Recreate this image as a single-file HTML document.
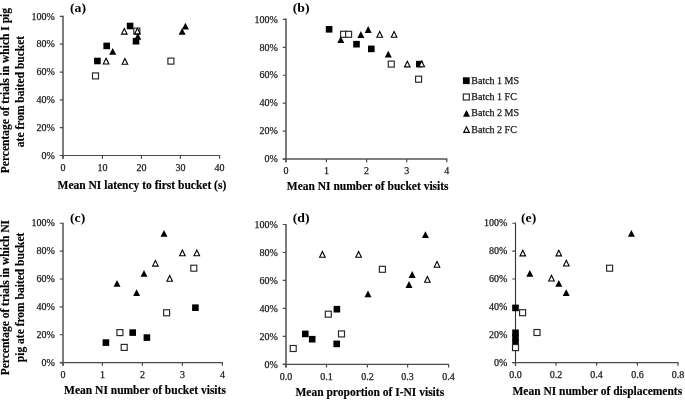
<!DOCTYPE html>
<html><head><meta charset="utf-8"><title>Figure</title>
<style>
html,body{margin:0;padding:0;background:#fff;}
svg{display:block;}
.t{font-family:"Liberation Serif","Times New Roman",serif;font-size:10px;fill:#1a1a1a;stroke:#1a1a1a;stroke-width:0.25px;}
.b{font-family:"Liberation Serif","Times New Roman",serif;font-size:11.5px;font-weight:bold;fill:#000;stroke:#000;stroke-width:0.15px;}
.l{font-family:"Liberation Serif","Times New Roman",serif;font-size:13px;font-weight:bold;fill:#000;}
</style></head><body>
<svg width="685" height="400" viewBox="0 0 685 400">
<rect width="685" height="400" fill="#fff"/>
<path d="M63.00 15.80V158.70" fill="none" stroke="#505050" stroke-width="1.5"/>
<path d="M59.80 155.50H220.10" fill="none" stroke="#4a4a4a" stroke-width="1.2"/>
<text x="54.80" y="158.70" text-anchor="end" class="t">0%</text>
<text x="54.80" y="130.88" text-anchor="end" class="t">20%</text>
<text x="54.80" y="103.06" text-anchor="end" class="t">40%</text>
<text x="54.80" y="75.24" text-anchor="end" class="t">60%</text>
<text x="54.80" y="47.42" text-anchor="end" class="t">80%</text>
<text x="54.80" y="19.60" text-anchor="end" class="t">100%</text>
<text x="63.00" y="170.80" text-anchor="middle" class="t">0</text>
<text x="102.40" y="170.80" text-anchor="middle" class="t">10</text>
<text x="141.40" y="170.80" text-anchor="middle" class="t">20</text>
<text x="180.40" y="170.80" text-anchor="middle" class="t">30</text>
<text x="219.60" y="170.80" text-anchor="middle" class="t">40</text>
<path d="M59.80 155.50H63.00M59.80 127.68H63.00M59.80 99.86H63.00M59.80 72.04H63.00M59.80 44.22H63.00M59.80 16.40H63.00M63.00 155.50V158.70M102.40 155.50V158.70M141.40 155.50V158.70M180.40 155.50V158.70M219.60 155.50V158.70" fill="none" stroke="#4a4a4a" stroke-width="1.2"/>
<text transform="translate(70.00 12.25) scale(1.06 1)" class="l">(a)</text>
<text x="141.90" y="189.00" text-anchor="middle" class="b">Mean NI latency to first bucket (s)</text>
<text transform="translate(9.40 90.60) rotate(-90)" text-anchor="middle" class="b">Percentage of trials in which I pig</text>
<text transform="translate(23.50 91.50) rotate(-90)" text-anchor="middle" class="b">ate from baited bucket</text>
<rect x="126.80" y="22.70" width="6.6" height="6.6" fill="#000"/>
<rect x="132.70" y="37.90" width="6.6" height="6.6" fill="#000"/>
<rect x="103.40" y="42.60" width="6.6" height="6.6" fill="#000"/>
<rect x="94.10" y="57.70" width="6.6" height="6.6" fill="#000"/>
<rect x="92.50" y="72.90" width="6.0" height="6.0" fill="#fff" stroke="#262626" stroke-width="1.15"/>
<rect x="133.80" y="28.10" width="6.0" height="6.0" fill="#fff" stroke="#262626" stroke-width="1.15"/>
<rect x="167.90" y="58.10" width="6.0" height="6.0" fill="#fff" stroke="#262626" stroke-width="1.15"/>
<polygon points="112.70,47.90 116.20,54.70 109.20,54.70" fill="#000"/>
<polygon points="137.80,33.00 141.30,39.80 134.30,39.80" fill="#000"/>
<polygon points="182.10,28.00 185.60,34.80 178.60,34.80" fill="#000"/>
<polygon points="185.40,22.70 188.90,29.50 181.90,29.50" fill="#000"/>
<polygon points="124.30,28.40 127.10,34.10 121.50,34.10" fill="#fff" stroke="#000" stroke-width="1.1" stroke-linejoin="miter"/>
<polygon points="137.40,28.20 140.20,33.90 134.60,33.90" fill="#fff" stroke="#000" stroke-width="1.1" stroke-linejoin="miter"/>
<polygon points="106.10,58.30 108.90,64.00 103.30,64.00" fill="#fff" stroke="#000" stroke-width="1.1" stroke-linejoin="miter"/>
<polygon points="124.90,58.60 127.70,64.30 122.10,64.30" fill="#fff" stroke="#000" stroke-width="1.1" stroke-linejoin="miter"/>
<path d="M286.00 18.60V162.20" fill="none" stroke="#505050" stroke-width="1.5"/>
<path d="M282.80 159.00H447.30" fill="none" stroke="#555" stroke-width="1.6"/>
<text x="277.80" y="162.20" text-anchor="end" class="t">0%</text>
<text x="277.80" y="134.28" text-anchor="end" class="t">20%</text>
<text x="277.80" y="106.36" text-anchor="end" class="t">40%</text>
<text x="277.80" y="78.44" text-anchor="end" class="t">60%</text>
<text x="277.80" y="50.52" text-anchor="end" class="t">80%</text>
<text x="277.80" y="22.60" text-anchor="end" class="t">100%</text>
<text x="286.00" y="174.30" text-anchor="middle" class="t">0</text>
<text x="326.40" y="174.30" text-anchor="middle" class="t">1</text>
<text x="366.60" y="174.30" text-anchor="middle" class="t">2</text>
<text x="406.70" y="174.30" text-anchor="middle" class="t">3</text>
<text x="446.80" y="174.30" text-anchor="middle" class="t">4</text>
<path d="M282.80 159.00H286.00M282.80 131.08H286.00M282.80 103.16H286.00M282.80 75.24H286.00M282.80 47.32H286.00M282.80 19.40H286.00M286.00 159.00V162.20M326.40 159.00V162.20M366.60 159.00V162.20M406.70 159.00V162.20M446.80 159.00V162.20" fill="none" stroke="#4a4a4a" stroke-width="1.2"/>
<text transform="translate(292.75 12.25) scale(1.06 1)" class="l">(b)</text>
<text x="367.70" y="189.60" text-anchor="middle" class="b">Mean NI number of bucket visits</text>
<rect x="325.80" y="26.00" width="6.6" height="6.6" fill="#000"/>
<rect x="353.20" y="40.90" width="6.6" height="6.6" fill="#000"/>
<rect x="368.00" y="45.60" width="6.6" height="6.6" fill="#000"/>
<rect x="416.00" y="60.80" width="6.6" height="6.6" fill="#000"/>
<rect x="340.60" y="31.30" width="6.0" height="6.0" fill="#fff" stroke="#262626" stroke-width="1.15"/>
<rect x="345.60" y="31.30" width="6.0" height="6.0" fill="#fff" stroke="#262626" stroke-width="1.15"/>
<rect x="388.30" y="61.10" width="6.0" height="6.0" fill="#fff" stroke="#262626" stroke-width="1.15"/>
<rect x="415.60" y="76.20" width="6.0" height="6.0" fill="#fff" stroke="#262626" stroke-width="1.15"/>
<polygon points="340.80,36.30 344.30,43.10 337.30,43.10" fill="#000"/>
<polygon points="360.90,31.10 364.40,37.90 357.40,37.90" fill="#000"/>
<polygon points="368.20,26.10 371.70,32.90 364.70,32.90" fill="#000"/>
<polygon points="388.30,50.80 391.80,57.60 384.80,57.60" fill="#000"/>
<polygon points="379.70,31.50 382.50,37.20 376.90,37.20" fill="#fff" stroke="#000" stroke-width="1.1" stroke-linejoin="miter"/>
<polygon points="394.10,31.50 396.90,37.20 391.30,37.20" fill="#fff" stroke="#000" stroke-width="1.1" stroke-linejoin="miter"/>
<polygon points="407.30,61.20 410.10,66.90 404.50,66.90" fill="#fff" stroke="#000" stroke-width="1.1" stroke-linejoin="miter"/>
<polygon points="421.70,61.10 424.50,66.80 418.90,66.80" fill="#fff" stroke="#000" stroke-width="1.1" stroke-linejoin="miter"/>
<rect x="462.90" y="77.30" width="6.8" height="6.8" fill="#000"/>
<rect x="463.30" y="94.00" width="6.0" height="6.0" fill="#fff" stroke="#262626" stroke-width="1.15"/>
<polygon points="466.50,109.90 470.00,116.70 463.00,116.70" fill="#000"/>
<polygon points="466.50,126.70 469.30,132.40 463.70,132.40" fill="#fff" stroke="#000" stroke-width="1.1" stroke-linejoin="miter"/>
<text x="471.3" y="83.80" class="t">Batch 1 MS</text>
<text x="471.3" y="100.10" class="t">Batch 1 FC</text>
<text x="471.3" y="116.40" class="t">Batch 2 MS</text>
<text x="471.3" y="132.70" class="t">Batch 2 FC</text>
<path d="M63.00 222.65V365.80" fill="none" stroke="#505050" stroke-width="1.5"/>
<path d="M59.80 362.60H222.90" fill="none" stroke="#4a4a4a" stroke-width="1.2"/>
<text x="54.80" y="365.80" text-anchor="end" class="t">0%</text>
<text x="54.80" y="337.93" text-anchor="end" class="t">20%</text>
<text x="54.80" y="310.06" text-anchor="end" class="t">40%</text>
<text x="54.80" y="282.19" text-anchor="end" class="t">60%</text>
<text x="54.80" y="254.32" text-anchor="end" class="t">80%</text>
<text x="54.80" y="226.45" text-anchor="end" class="t">100%</text>
<text x="63.00" y="377.90" text-anchor="middle" class="t">0</text>
<text x="102.40" y="377.90" text-anchor="middle" class="t">1</text>
<text x="142.40" y="377.90" text-anchor="middle" class="t">2</text>
<text x="182.40" y="377.90" text-anchor="middle" class="t">3</text>
<text x="222.40" y="377.90" text-anchor="middle" class="t">4</text>
<path d="M59.80 362.60H63.00M59.80 334.73H63.00M59.80 306.86H63.00M59.80 278.99H63.00M59.80 251.12H63.00M59.80 223.25H63.00M63.00 362.60V365.80M102.40 362.60V365.80M142.40 362.60V365.80M182.40 362.60V365.80M222.40 362.60V365.80" fill="none" stroke="#4a4a4a" stroke-width="1.2"/>
<text transform="translate(70.00 221.75) scale(1.06 1)" class="l">(c)</text>
<text x="145.00" y="394.40" text-anchor="middle" class="b">Mean NI number of bucket visits</text>
<text transform="translate(9.40 297.60) rotate(-90)" text-anchor="middle" class="b">Percentage of trials in which NI</text>
<text transform="translate(23.50 297.40) rotate(-90)" text-anchor="middle" class="b">pig ate from baited bucket</text>
<rect x="102.60" y="339.30" width="6.6" height="6.6" fill="#000"/>
<rect x="129.40" y="329.30" width="6.6" height="6.6" fill="#000"/>
<rect x="143.60" y="334.30" width="6.6" height="6.6" fill="#000"/>
<rect x="192.10" y="304.40" width="6.6" height="6.6" fill="#000"/>
<rect x="116.90" y="329.60" width="6.0" height="6.0" fill="#fff" stroke="#262626" stroke-width="1.15"/>
<rect x="121.20" y="344.40" width="6.0" height="6.0" fill="#fff" stroke="#262626" stroke-width="1.15"/>
<rect x="163.60" y="309.80" width="6.0" height="6.0" fill="#fff" stroke="#262626" stroke-width="1.15"/>
<rect x="190.80" y="265.20" width="6.0" height="6.0" fill="#fff" stroke="#262626" stroke-width="1.15"/>
<polygon points="164.00,230.00 167.50,236.80 160.50,236.80" fill="#000"/>
<polygon points="144.00,270.00 147.50,276.80 140.50,276.80" fill="#000"/>
<polygon points="117.00,280.00 120.50,286.80 113.50,286.80" fill="#000"/>
<polygon points="136.60,289.20 140.10,296.00 133.10,296.00" fill="#000"/>
<polygon points="182.40,250.00 185.20,255.70 179.60,255.70" fill="#fff" stroke="#000" stroke-width="1.1" stroke-linejoin="miter"/>
<polygon points="196.80,250.00 199.60,255.70 194.00,255.70" fill="#fff" stroke="#000" stroke-width="1.1" stroke-linejoin="miter"/>
<polygon points="155.40,260.40 158.20,266.10 152.60,266.10" fill="#fff" stroke="#000" stroke-width="1.1" stroke-linejoin="miter"/>
<polygon points="169.70,275.50 172.50,281.20 166.90,281.20" fill="#fff" stroke="#000" stroke-width="1.1" stroke-linejoin="miter"/>
<path d="M286.00 223.90V367.60" fill="none" stroke="#505050" stroke-width="1.5"/>
<path d="M282.80 364.40H449.10" fill="none" stroke="#4a4a4a" stroke-width="1.2"/>
<text x="277.80" y="367.60" text-anchor="end" class="t">0%</text>
<text x="277.80" y="339.62" text-anchor="end" class="t">20%</text>
<text x="277.80" y="311.64" text-anchor="end" class="t">40%</text>
<text x="277.80" y="283.66" text-anchor="end" class="t">60%</text>
<text x="277.80" y="255.68" text-anchor="end" class="t">80%</text>
<text x="277.80" y="227.70" text-anchor="end" class="t">100%</text>
<text x="286.00" y="379.70" text-anchor="middle" class="t">0.0</text>
<text x="326.50" y="379.70" text-anchor="middle" class="t">0.1</text>
<text x="367.40" y="379.70" text-anchor="middle" class="t">0.2</text>
<text x="407.60" y="379.70" text-anchor="middle" class="t">0.3</text>
<text x="448.60" y="379.70" text-anchor="middle" class="t">0.4</text>
<path d="M282.80 364.40H286.00M282.80 336.42H286.00M282.80 308.44H286.00M282.80 280.46H286.00M282.80 252.48H286.00M282.80 224.50H286.00M286.00 364.40V367.60M326.50 364.40V367.60M367.40 364.40V367.60M407.60 364.40V367.60M448.60 364.40V367.60" fill="none" stroke="#4a4a4a" stroke-width="1.2"/>
<text transform="translate(292.75 221.75) scale(1.06 1)" class="l">(d)</text>
<text x="369.80" y="396.40" text-anchor="middle" class="b">Mean proportion of I-NI visits</text>
<rect x="333.60" y="305.90" width="6.6" height="6.6" fill="#000"/>
<rect x="302.00" y="330.60" width="6.6" height="6.6" fill="#000"/>
<rect x="308.90" y="335.90" width="6.6" height="6.6" fill="#000"/>
<rect x="333.40" y="340.60" width="6.6" height="6.6" fill="#000"/>
<rect x="325.30" y="311.20" width="6.0" height="6.0" fill="#fff" stroke="#262626" stroke-width="1.15"/>
<rect x="338.50" y="330.90" width="6.0" height="6.0" fill="#fff" stroke="#262626" stroke-width="1.15"/>
<rect x="290.20" y="345.50" width="6.0" height="6.0" fill="#fff" stroke="#262626" stroke-width="1.15"/>
<rect x="379.40" y="266.30" width="6.0" height="6.0" fill="#fff" stroke="#262626" stroke-width="1.15"/>
<polygon points="425.40,231.30 428.90,238.10 421.90,238.10" fill="#000"/>
<polygon points="412.20,271.10 415.70,277.90 408.70,277.90" fill="#000"/>
<polygon points="409.00,281.10 412.50,287.90 405.50,287.90" fill="#000"/>
<polygon points="368.00,290.40 371.50,297.20 364.50,297.20" fill="#000"/>
<polygon points="322.40,251.50 325.20,257.20 319.60,257.20" fill="#fff" stroke="#000" stroke-width="1.1" stroke-linejoin="miter"/>
<polygon points="358.60,251.50 361.40,257.20 355.80,257.20" fill="#fff" stroke="#000" stroke-width="1.1" stroke-linejoin="miter"/>
<polygon points="437.00,261.50 439.80,267.20 434.20,267.20" fill="#fff" stroke="#000" stroke-width="1.1" stroke-linejoin="miter"/>
<polygon points="427.40,276.50 430.20,282.20 424.60,282.20" fill="#fff" stroke="#000" stroke-width="1.1" stroke-linejoin="miter"/>
<path d="M515.50 222.65V365.85" fill="none" stroke="#333" stroke-width="1.1"/>
<path d="M512.30 362.65H678.50" fill="none" stroke="#4a4a4a" stroke-width="1.2"/>
<text x="507.30" y="365.85" text-anchor="end" class="t">0%</text>
<text x="507.30" y="337.97" text-anchor="end" class="t">20%</text>
<text x="507.30" y="310.09" text-anchor="end" class="t">40%</text>
<text x="507.30" y="282.21" text-anchor="end" class="t">60%</text>
<text x="507.30" y="254.33" text-anchor="end" class="t">80%</text>
<text x="507.30" y="226.45" text-anchor="end" class="t">100%</text>
<text x="515.50" y="377.95" text-anchor="middle" class="t">0.0</text>
<text x="556.00" y="377.95" text-anchor="middle" class="t">0.2</text>
<text x="596.60" y="377.95" text-anchor="middle" class="t">0.4</text>
<text x="637.40" y="377.95" text-anchor="middle" class="t">0.6</text>
<text x="678.00" y="377.95" text-anchor="middle" class="t">0.8</text>
<path d="M512.30 362.65H515.50M512.30 334.77H515.50M512.30 306.89H515.50M512.30 279.01H515.50M512.30 251.13H515.50M512.30 223.25H515.50M515.50 362.65V365.85M556.00 362.65V365.85M596.60 362.65V365.85M637.40 362.65V365.85M678.00 362.65V365.85" fill="none" stroke="#4a4a4a" stroke-width="1.2"/>
<text transform="translate(521.00 221.75) scale(1.06 1)" class="l">(e)</text>
<text x="597.30" y="395.00" text-anchor="middle" class="b">Mean NI number of displacements</text>
<rect x="512.20" y="304.60" width="6.6" height="6.6" fill="#000"/>
<rect x="512.20" y="329.50" width="6.6" height="6.6" fill="#000"/>
<rect x="512.20" y="334.40" width="6.6" height="6.6" fill="#000"/>
<rect x="512.20" y="339.40" width="6.6" height="6.6" fill="#000"/>
<rect x="519.60" y="309.70" width="6.0" height="6.0" fill="#fff" stroke="#262626" stroke-width="1.15"/>
<rect x="534.00" y="329.50" width="6.0" height="6.0" fill="#fff" stroke="#262626" stroke-width="1.15"/>
<rect x="512.50" y="344.60" width="6.0" height="6.0" fill="#fff" stroke="#262626" stroke-width="1.15"/>
<rect x="606.60" y="265.20" width="6.0" height="6.0" fill="#fff" stroke="#262626" stroke-width="1.15"/>
<polygon points="631.40,229.90 634.90,236.70 627.90,236.70" fill="#000"/>
<polygon points="529.80,270.00 533.30,276.80 526.30,276.80" fill="#000"/>
<polygon points="558.80,280.00 562.30,286.80 555.30,286.80" fill="#000"/>
<polygon points="566.20,289.30 569.70,296.10 562.70,296.10" fill="#000"/>
<polygon points="522.80,250.20 525.60,255.90 520.00,255.90" fill="#fff" stroke="#000" stroke-width="1.1" stroke-linejoin="miter"/>
<polygon points="558.80,250.20 561.60,255.90 556.00,255.90" fill="#fff" stroke="#000" stroke-width="1.1" stroke-linejoin="miter"/>
<polygon points="566.30,260.30 569.10,266.00 563.50,266.00" fill="#fff" stroke="#000" stroke-width="1.1" stroke-linejoin="miter"/>
<polygon points="551.50,275.30 554.30,281.00 548.70,281.00" fill="#fff" stroke="#000" stroke-width="1.1" stroke-linejoin="miter"/>
</svg>
</body></html>
